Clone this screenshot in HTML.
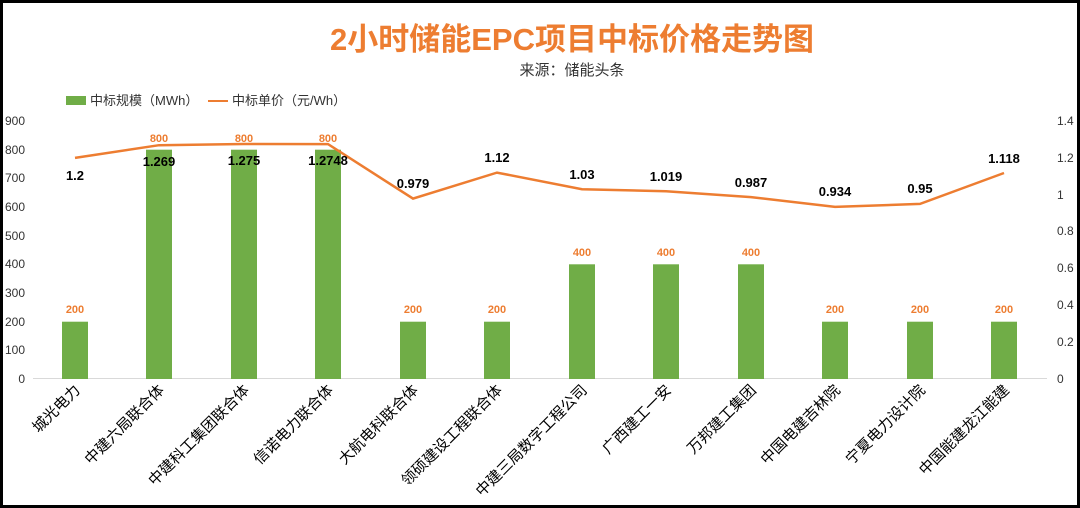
<!DOCTYPE html><html><head><meta charset="utf-8"><style>body{margin:0;background:#fff}svg{display:block}text{font-family:"Liberation Sans","Noto Sans CJK SC",sans-serif}</style></head><body>
<svg width="1080" height="508" xmlns="http://www.w3.org/2000/svg">
<rect x="1.5" y="1.5" width="1077" height="505" fill="#fff" stroke="#000" stroke-width="3"/>
<text x="572" y="50" text-anchor="middle" font-size="31" font-weight="bold" fill="#ED7D31">2小时储能EPC项目中标价格走势图</text>
<text x="572" y="75" text-anchor="middle" font-size="15" fill="#333">来源：储能头条</text>
<rect x="66" y="96" width="20" height="9" fill="#70AD47"/>
<text x="90" y="105" font-size="13" fill="#333">中标规模（MWh）</text>
<line x1="208" y1="101" x2="228" y2="101" stroke="#ED7D31" stroke-width="2"/>
<text x="232" y="105" font-size="13" fill="#333">中标单价（元/Wh）</text>
<line x1="33" y1="378.5" x2="1047" y2="378.5" stroke="#d9d9d9"/>
<g font-size="12" fill="#333">
<text x="25" y="383" text-anchor="end">0</text><text x="25" y="354" text-anchor="end">100</text><text x="25" y="326" text-anchor="end">200</text><text x="25" y="297" text-anchor="end">300</text><text x="25" y="268" text-anchor="end">400</text><text x="25" y="240" text-anchor="end">500</text><text x="25" y="211" text-anchor="end">600</text><text x="25" y="182" text-anchor="end">700</text><text x="25" y="154" text-anchor="end">800</text><text x="25" y="125" text-anchor="end">900</text>
<text x="1057" y="383">0</text><text x="1057" y="346">0.2</text><text x="1057" y="309">0.4</text><text x="1057" y="272">0.6</text><text x="1057" y="235">0.8</text><text x="1057" y="199">1</text><text x="1057" y="162">1.2</text><text x="1057" y="125">1.4</text>
</g>
<g fill="#70AD47">
<rect x="62" y="321.7" width="26" height="57.3"/><rect x="146" y="149.7" width="26" height="229.3"/><rect x="231" y="149.7" width="26" height="229.3"/><rect x="315" y="149.7" width="26" height="229.3"/><rect x="400" y="321.7" width="26" height="57.3"/><rect x="484" y="321.7" width="26" height="57.3"/><rect x="569" y="264.3" width="26" height="114.7"/><rect x="653" y="264.3" width="26" height="114.7"/><rect x="738" y="264.3" width="26" height="114.7"/><rect x="822" y="321.7" width="26" height="57.3"/><rect x="907" y="321.7" width="26" height="57.3"/><rect x="991" y="321.7" width="26" height="57.3"/>
</g>
<g font-size="11" font-weight="bold" fill="#ED7D31" text-anchor="middle">
<text x="75" y="313">200</text><text x="159" y="142">800</text><text x="244" y="142">800</text><text x="328" y="142">800</text><text x="413" y="313">200</text><text x="497" y="313">200</text><text x="582" y="256">400</text><text x="666" y="256">400</text><text x="751" y="256">400</text><text x="835" y="313">200</text><text x="920" y="313">200</text><text x="1004" y="313">200</text>
</g>
<polyline fill="none" stroke="#ED7D31" stroke-width="2.5" points="75,157.9 159,145.2 244,144 328,144.1 413,198.6 497,172.6 582,189.2 666,191.2 751,197.1 835,206.9 920,203.9 1004,173"/>
<g font-size="13" font-weight="bold" fill="#000" text-anchor="middle">
<text x="75" y="180">1.2</text><text x="159" y="166">1.269</text><text x="244" y="165">1.275</text><text x="328" y="165">1.2748</text><text x="413" y="188">0.979</text><text x="497" y="162">1.12</text><text x="582" y="179">1.03</text><text x="666" y="181">1.019</text><text x="751" y="187">0.987</text><text x="835" y="196">0.934</text><text x="920" y="193">0.95</text><text x="1004" y="163">1.118</text>
</g>
<g font-size="15" fill="#000" text-anchor="end">
<text transform="translate(81,391) rotate(-45)">城光电力</text>
<text transform="translate(165,391) rotate(-45)">中建六局联合体</text>
<text transform="translate(250,391) rotate(-45)">中建科工集团联合体</text>
<text transform="translate(334,391) rotate(-45)">信诺电力联合体</text>
<text transform="translate(419,391) rotate(-45)">大航电科联合体</text>
<text transform="translate(503,391) rotate(-45)">领硕建设工程联合体</text>
<text transform="translate(588,391) rotate(-45)">中建三局数字工程公司</text>
<text transform="translate(672,391) rotate(-45)">广西建工一安</text>
<text transform="translate(757,391) rotate(-45)">万邦建工集团</text>
<text transform="translate(841,391) rotate(-45)">中国电建吉林院</text>
<text transform="translate(926,391) rotate(-45)">宁夏电力设计院</text>
<text transform="translate(1010,391) rotate(-45)">中国能建龙江能建</text>
</g>
</svg></body></html>
